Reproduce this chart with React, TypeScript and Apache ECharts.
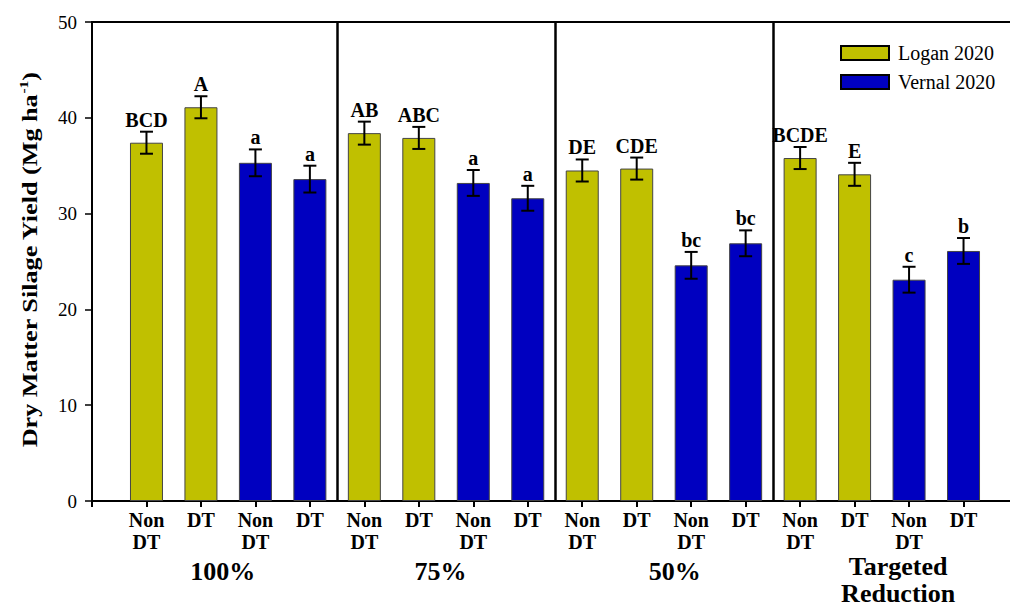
import React, { useEffect, useRef } from "react";
import * as echarts from "echarts";

// Slot positions along the x axis (1..16), four treatments × four bars
const tickLabels = [
  "Non\nDT", "DT", "Non\nDT", "DT",
  "Non\nDT", "DT", "Non\nDT", "DT",
  "Non\nDT", "DT", "Non\nDT", "DT",
  "Non\nDT", "DT", "Non\nDT", "DT",
];

const loganX = [1, 2, 5, 6, 9, 10, 13, 14];
const loganY = [37.4, 41.1, 38.4, 37.9, 34.5, 34.7, 35.8, 34.1];
const loganErr = [1.15, 1.15, 1.2, 1.15, 1.15, 1.15, 1.15, 1.2];
const loganLetters = ["BCD", "A", "AB", "ABC", "DE", "CDE", "BCDE", "E"];

const vernalX = [3, 4, 7, 8, 11, 12, 15, 16];
const vernalY = [35.3, 33.6, 33.2, 31.6, 24.6, 26.9, 23.1, 26.1];
const vernalErr = [1.4, 1.4, 1.35, 1.3, 1.4, 1.35, 1.35, 1.35];
const vernalLetters = ["a", "a", "a", "a", "bc", "bc", "c", "b"];

const groupNames = ["100%", "75%", "50%", "Targeted\nReduction"];
const groupCenters = [2.4, 6.4, 10.7, 14.8];
const groupDividers = [4.5, 8.5, 12.5];

const SERIF = "'Liberation Serif', 'Times New Roman', serif";
const OLIVE = "#c0c000";
const BLUE = "#0000c0";

function errorSeries(xs: number[], ys: number[], errs: number[], letters: string[]) {
  return {
    type: "custom",
    z: 5,
    clip: false,
    silent: true,
    data: xs.map((x, i) => [x, ys[i], errs[i]]),
    renderItem: (params: any, api: any) => {
      const x = api.value(0);
      const y = api.value(1);
      const e = api.value(2);
      const top = api.coord([x, y + e]);
      const bot = api.coord([x, y - e]);
      const cap = 6.5;
      const ls = { stroke: "#000", lineWidth: 2 };
      return {
        type: "group",
        children: [
          { type: "line", shape: { x1: top[0], y1: top[1], x2: bot[0], y2: bot[1] }, style: ls },
          { type: "line", shape: { x1: top[0] - cap, y1: top[1], x2: top[0] + cap, y2: top[1] }, style: ls },
          { type: "line", shape: { x1: bot[0] - cap, y1: bot[1], x2: bot[0] + cap, y2: bot[1] }, style: ls },
          {
            type: "text",
            x: top[0],
            y: top[1] - 2,
            style: {
              text: letters[params.dataIndex],
              fill: "#000",
              fontFamily: SERIF,
              fontWeight: "bold",
              fontSize: 20,
              align: "center",
              verticalAlign: "bottom",
            },
          },
        ],
      };
    },
  };
}

export default function App() {
  const ref = useRef<HTMLDivElement>(null);

  useEffect(() => {
    if (!ref.current) return;
    const chart = echarts.init(ref.current, undefined, { renderer: "svg" });
    chart.setOption({
      animation: false,
      backgroundColor: "#fff",
      grid: {
        left: 92,
        top: 22,
        bottom: 107,
        right: 0,
        show: true,
        borderColor: "#000",
        borderWidth: 2,
        backgroundColor: "transparent",
      },
      legend: {
        data: ["Logan 2020", "Vernal 2020"],
        orient: "vertical",
        left: 840,
        top: 43,
        padding: 0,
        itemWidth: 48,
        itemHeight: 14,
        itemGap: 9,
        icon: "rect",
        itemStyle: { borderColor: "#000", borderWidth: 2 },
        textStyle: {
          fontFamily: SERIF,
          fontSize: 20,
          lineHeight: 14,
          color: "#000",
          padding: [0, 0, 0, 4],
        },
        selectedMode: false,
      },
      xAxis: {
        type: "value",
        min: 0,
        max: 17,
        interval: 1,
        splitLine: { show: false },
        axisLine: { show: true, lineStyle: { color: "#000", width: 2 } },
        axisTick: { show: true, length: 6, lineStyle: { color: "#000", width: 2 } },
        axisLabel: {
          margin: 8,
          showMinLabel: true,
          showMaxLabel: true,
          formatter: (v: number) => tickLabels[v - 1] ?? "",
          fontFamily: SERIF,
          fontWeight: "bold",
          fontSize: 20,
          lineHeight: 22,
          color: "#000",
        },
      },
      yAxis: {
        type: "value",
        min: 0,
        max: 50,
        interval: 10,
        splitLine: { show: false },
        axisLine: { show: true, lineStyle: { color: "#000", width: 2 } },
        axisTick: { show: true, length: 7, lineStyle: { color: "#000", width: 1.5 } },
        axisLabel: {
          margin: 15,
          fontFamily: SERIF,
          fontSize: 19,
          color: "#000",
        },
      },
      graphic: [
        {
          type: "text",
          x: 29,
          y: 260,
          rotation: Math.PI / 2,
          scaleX: 1.19,
          style: {
            text: "{a|Dry Matter Silage Yield (Mg ha}{s|-1}{a|)}",
            align: "center",
            verticalAlign: "middle",
            fill: "#000",
            rich: {
              a: { fontFamily: SERIF, fontWeight: "bold", fontSize: 22, fill: "#000", lineHeight: 24 },
              s: { fontFamily: SERIF, fontWeight: "bold", fontSize: 13, fill: "#000", verticalAlign: "top", lineHeight: 13 },
            },
          },
        },
      ],
      series: [
        {
          name: "Logan 2020",
          type: "bar",
          barWidth: 33,
          barGap: "-100%",
          itemStyle: { color: OLIVE, borderColor: "#444", borderWidth: 1 },
          data: loganX.map((x, i) => [x, loganY[i]]),
          markLine: {
            silent: true,
            symbol: "none",
            label: { show: false },
            lineStyle: { color: "#000", width: 2.5, type: "solid" },
            data: groupDividers.map((d) => ({ xAxis: d })),
          },
        },
        {
          name: "Vernal 2020",
          type: "bar",
          barWidth: 33,
          barGap: "-100%",
          itemStyle: { color: BLUE, borderColor: "#444", borderWidth: 1 },
          data: vernalX.map((x, i) => [x, vernalY[i]]),
        },
        errorSeries(loganX, loganY, loganErr, loganLetters),
        errorSeries(vernalX, vernalY, vernalErr, vernalLetters),
        {
          type: "custom",
          clip: false,
          silent: true,
          data: groupCenters.map((c, i) => [c, 0, i]),
          renderItem: (params: any, api: any) => {
            const p = api.coord([api.value(0), 0]);
            const name = groupNames[params.dataIndex];
            const twoLines = name.indexOf("\n") >= 0;
            return {
              type: "text",
              x: p[0],
              y: p[1] + (twoLines ? 79 : 70),
              style: {
                text: name,
                fill: "#000",
                fontFamily: SERIF,
                fontWeight: "bold",
                fontSize: 26,
                lineHeight: 27,
                align: "center",
                verticalAlign: "middle",
              },
            };
          },
        },
      ],
    });
    return () => chart.dispose();
  }, []);

  return (
    <div style={{ position: "absolute", left: 0, top: 0, width: 1010, height: 608, overflow: "hidden", background: "#fff" }}>
      <div ref={ref} style={{ width: 1021, height: 608 }} />
    </div>
  );
}
